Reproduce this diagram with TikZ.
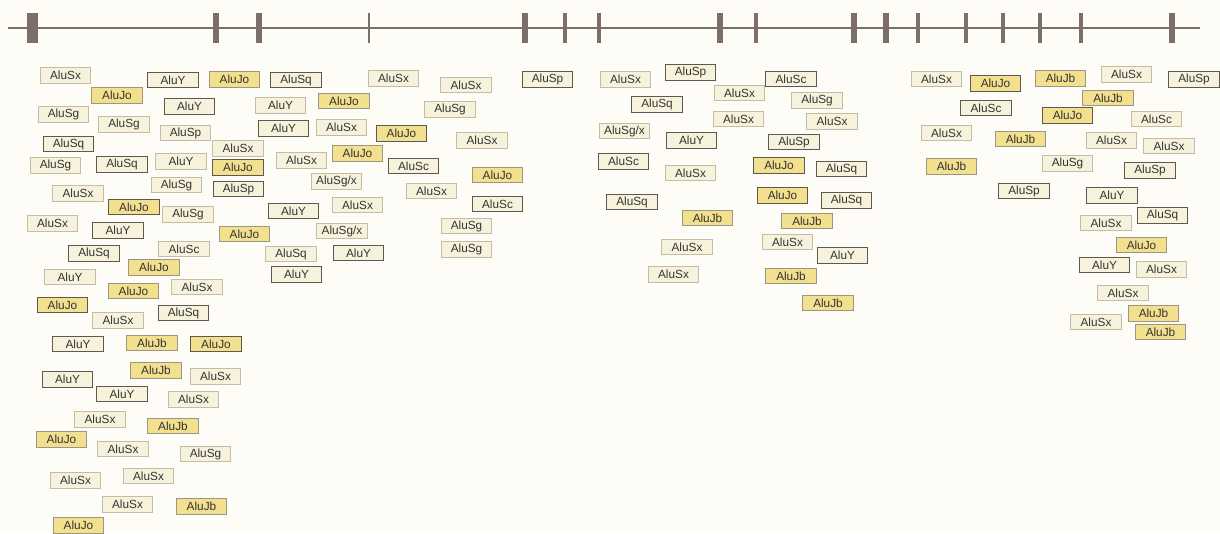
\documentclass[tikz,border=0pt]{standalone}
\usepackage{fontspec}
\setmainfont{Liberation Sans}
\definecolor{bgcol}{HTML}{FDFCF7}
\definecolor{palefill}{HTML}{F7F2DC}
\definecolor{yelfill}{HTML}{F2E08F}
\definecolor{lightedge}{HTML}{C4BCA6}
\definecolor{darkedge}{HTML}{5E5850}
\definecolor{txt}{HTML}{333333}
\definecolor{barcol}{HTML}{7D6F68}
\tikzset{
  lbl/.style={minimum width=50.5pt, minimum height=15.5pt, inner sep=0pt,
    text=txt, font=\fontsize{11.8}{12}\selectfont, line width=0.9pt},
  pl/.style={lbl, fill=palefill, draw=lightedge},
  pd/.style={lbl, fill=palefill, draw=darkedge},
  yl/.style={lbl, fill=yelfill, draw=lightedge!80!black},
  yd/.style={lbl, fill=yelfill, draw=darkedge},
  tick/.style={fill=barcol, draw=none},
}
\begin{document}
\begin{tikzpicture}[x=1pt, y=-1pt]
\fill[bgcol] (0,0) rectangle (1220,533);
\useasboundingbox (0,0) rectangle (1220,533);

% axis with marks
\draw[barcol, line width=2pt] (8,28) -- (1200,28);
\foreach \p/\w in {32.7/11, 216/5.4, 258.6/5.8, 369/2.4, 525.3/6, 565.2/4.5,
  599.2/4, 720/5.8, 756/4.7, 854/5.4, 886/5.4, 918/4.7, 966/4.7, 1003/4.7,
  1040/4, 1081/4, 1172/5.8}
  \fill[tick] (\p-\w/2,13) rectangle (\p+\w/2,43);

% left group
\node[pl] (b1) at (65.5,75.5) {AluSx};
\node[pd] (b2) at (173,80) {AluY};
\node[yl] (b3) at (234.5,79.5) {AluJo};
\node[yl] (b4) at (117,95.5) {AluJo};
\node[pl] (b5) at (63.5,114.5) {AluSg};
\node[pd] (b6) at (189.5,106.5) {AluY};
\node[pl] (b7) at (124,124.5) {AluSg};
\node[pl] (b8) at (185.5,133) {AluSp};
\node[pd] (b9) at (68.5,144) {AluSq};
\node[pl] (b10) at (238,148.5) {AluSx};
\node[pl] (b11) at (55.5,165.5) {AluSg};
\node[pd] (b12) at (122,164.5) {AluSq};
\node[pl] (b13) at (181,161.5) {AluY};
\node[yd] (b14) at (238,167.5) {AluJo};
\node[pl] (b15) at (176.5,185) {AluSg};
\node[pd] (b16) at (238.5,189) {AluSp};
\node[pl] (b17) at (78,193.5) {AluSx};
\node[yd] (b18) at (134,207) {AluJo};
\node[pl] (b19) at (188,214.5) {AluSg};
\node[pl] (b20) at (52.5,223.5) {AluSx};
\node[pd] (b21) at (118,230.5) {AluY};
\node[yl] (b22) at (244.5,234) {AluJo};
\node[pd] (b23) at (94,253.5) {AluSq};
\node[pl] (b24) at (184,249) {AluSc};
\node[yl] (b25) at (154,267.5) {AluJo};
\node[pl] (b26) at (70,277) {AluY};
\node[yl] (b27) at (133.5,291) {AluJo};
\node[pl] (b28) at (197,287) {AluSx};
\node[yd] (b29) at (62.5,305) {AluJo};
\node[pl] (b30) at (118,320.5) {AluSx};
\node[pd] (b31) at (183.5,313) {AluSq};
\node[pd] (b32) at (78,344) {AluY};
\node[yl] (b33) at (152,343) {AluJb};
\node[yd] (b34) at (216,344) {AluJo};
\node[yl] (b35) at (156,370.5) {AluJb};
\node[pd] (b36) at (67.5,379.5) {AluY};
\node[pl] (b37) at (215.5,376.5) {AluSx};
\node[pd] (b38) at (122,394) {AluY};
\node[pl] (b39) at (193.5,399.5) {AluSx};
\node[pl] (b40) at (100,419.5) {AluSx};
\node[yl] (b41) at (173,426) {AluJb};
\node[yl] (b42) at (61.5,439.5) {AluJo};
\node[pl] (b43) at (123,449) {AluSx};
\node[pl] (b44) at (205.5,454) {AluSg};
\node[pl] (b45) at (75.5,480.5) {AluSx};
\node[pl] (b46) at (148.5,476) {AluSx};
\node[pl] (b47) at (127.5,504.5) {AluSx};
\node[yl] (b48) at (201.5,506.5) {AluJb};
\node[yl] (b49) at (78.5,525.5) {AluJo};

% second group
\node[pd] (b50) at (296,80) {AluSq};
\node[pl] (b51) at (393.5,78.5) {AluSx};
\node[pl] (b52) at (466,85) {AluSx};
\node[pl] (b53) at (280.5,105.5) {AluY};
\node[yl] (b54) at (344,101) {AluJo};
\node[pl] (b55) at (450,109.5) {AluSg};
\node[pd] (b56) at (283.5,128.5) {AluY};
\node[pl] (b57) at (341.5,127.5) {AluSx};
\node[yd] (b58) at (401.5,133.5) {AluJo};
\node[pl] (b59) at (482,140.5) {AluSx};
\node[pl] (b60) at (301.5,160.5) {AluSx};
\node[yl] (b61) at (357.5,153.5) {AluJo};
\node[pd] (b62) at (413.5,166) {AluSc};
\node[yl] (b63) at (497.5,175) {AluJo};
\node[pl] (b64) at (336.5,181.5) {AluSg/x};
\node[pl] (b65) at (431.5,191) {AluSx};
\node[pd] (b66) at (497.5,204) {AluSc};
\node[pd] (b67) at (293.5,211) {AluY};
\node[pl] (b68) at (357.5,205) {AluSx};
\node[pl] (b69) at (466.5,226) {AluSg};
\node[pl] (b70) at (342,231) {AluSg/x};
\node[pl] (b71) at (291,254) {AluSq};
\node[pd] (b72) at (358.5,253) {AluY};
\node[pl] (b73) at (466.5,249.5) {AluSg};
\node[pd] (b74) at (296.5,274.5) {AluY};

% third group
\node[pd] (b75) at (547.5,79.5) {AluSp};
\node[pl] (b76) at (625.5,79.5) {AluSx};
\node[pd] (b77) at (690.5,72.5) {AluSp};
\node[pd] (b78) at (657,104.5) {AluSq};
\node[pl] (b79) at (624.5,131) {AluSg/x};
\node[pd] (b80) at (691.5,140.5) {AluY};
\node[pd] (b81) at (623.5,161.5) {AluSc};
\node[pl] (b82) at (690.5,173) {AluSx};
\node[pd] (b83) at (632,202) {AluSq};
\node[yl] (b84) at (707.5,218) {AluJb};
\node[pl] (b85) at (687,247) {AluSx};
\node[pl] (b86) at (673.5,274.5) {AluSx};
\node[pd] (b87) at (791,79) {AluSc};
\node[pl] (b88) at (739.5,93) {AluSx};
\node[pl] (b89) at (817,100.5) {AluSg};
\node[pl] (b90) at (738.5,119) {AluSx};
\node[pl] (b91) at (832,121.5) {AluSx};
\node[pd] (b92) at (794,142) {AluSp};
\node[yd] (b93) at (779,165.5) {AluJo};
\node[pd] (b94) at (841.5,169) {AluSq};
\node[yd] (b95) at (782.5,195.5) {AluJo};
\node[pd] (b96) at (846.5,200.5) {AluSq};
\node[yl] (b97) at (807,221) {AluJb};
\node[pl] (b98) at (787.5,242) {AluSx};
\node[pd] (b99) at (842.5,255.5) {AluY};
\node[yl] (b100) at (791,276) {AluJb};
\node[yl] (b101) at (828,303) {AluJb};

% right group
\node[pl] (b102) at (936.5,79) {AluSx};
\node[yd] (b103) at (995.5,83.5) {AluJo};
\node[pd] (b104) at (986,108) {AluSc};
\node[pl] (b105) at (946.5,133) {AluSx};
\node[yl] (b106) at (1020.5,139) {AluJb};
\node[yl] (b107) at (951.5,166.5) {AluJb};
\node[pd] (b108) at (1024,191) {AluSp};
\node[yl] (b109) at (1060.5,78.5) {AluJb};
\node[yd] (b110) at (1067.5,115.5) {AluJo};
\node[pl] (b111) at (1067.5,163.5) {AluSg};
\node[pl] (b112) at (1126.5,74.5) {AluSx};
\node[pd] (b113) at (1194,79.5) {AluSp};
\node[yl] (b114) at (1108,98) {AluJb};
\node[pl] (b115) at (1156.5,119) {AluSc};
\node[pl] (b116) at (1111.5,140.5) {AluSx};
\node[pl] (b117) at (1169,146) {AluSx};
\node[pd] (b118) at (1150,170.5) {AluSp};
\node[pd] (b119) at (1112,195.5) {AluY};
\node[pd] (b120) at (1162.5,215.5) {AluSq};
\node[pl] (b121) at (1106,223) {AluSx};
\node[yl] (b122) at (1141.5,245) {AluJo};
\node[pd] (b123) at (1104.5,265) {AluY};
\node[pl] (b124) at (1161.5,269.5) {AluSx};
\node[pl] (b125) at (1123,293) {AluSx};
\node[yl] (b126) at (1153.5,313.5) {AluJb};
\node[pl] (b127) at (1096,322) {AluSx};
\node[yl] (b128) at (1160.5,332) {AluJb};
\end{tikzpicture}
\end{document}
